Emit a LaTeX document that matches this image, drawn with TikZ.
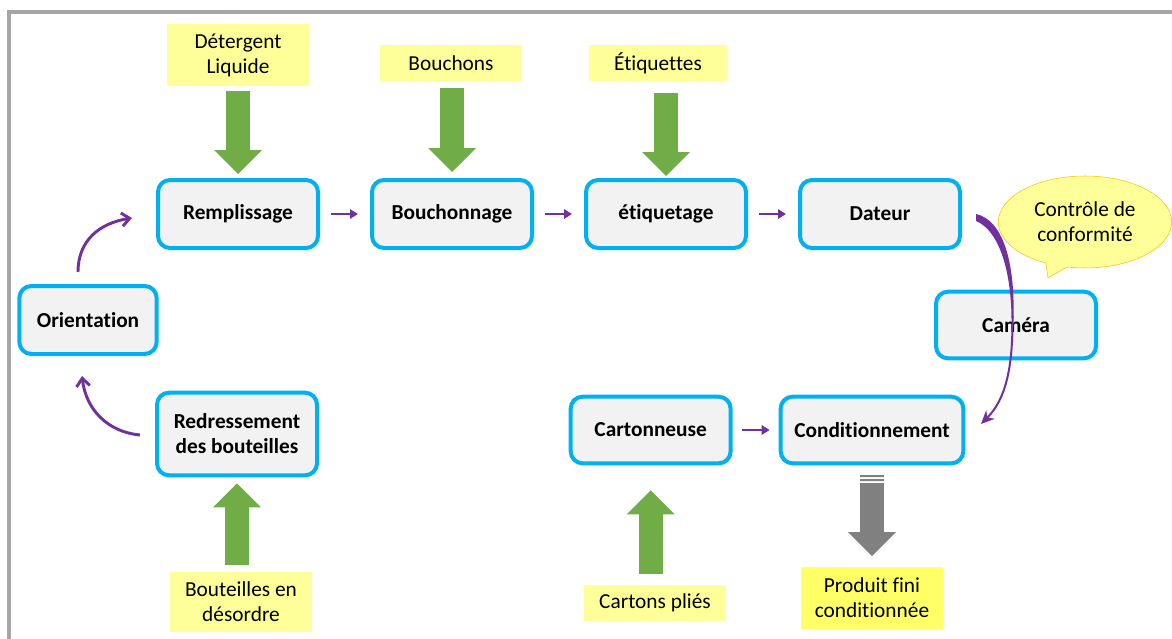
\documentclass[tikz,border=0pt]{standalone}
\usepackage{fontspec}
\setmainfont{Carlito}[Ligatures=CommonOff]
\usepackage{xcolor}
\usetikzlibrary{arrows.meta,positioning,shapes.callouts,shapes.geometric}
\definecolor{boxfill}{HTML}{F2F2F2}
\definecolor{boxline}{HTML}{00B0F0}
\definecolor{paleyellow}{HTML}{FFFF99}
\definecolor{brightyellow}{HTML}{FFFF66}
\definecolor{leafgreen}{HTML}{70AD47}
\definecolor{arrowgray}{HTML}{808080}
\definecolor{flowpurple}{HTML}{7030A0}
\definecolor{framegray}{HTML}{A6A6A6}
\definecolor{bubbleline}{HTML}{FFC000}

\begin{document}
\begin{tikzpicture}
[x=0.75pt, y=-0.75pt, font=\fontsize{16}{18.75}\selectfont,
% STYLES
% The machine style is used to draw each station of the line
machine/.style={rectangle, draw=boxline, fill=boxfill, line width=3pt, rounded corners=9pt, minimum width=120pt, minimum height=51pt, align=center, font=\fontsize{16}{18.75}\selectfont\bfseries},
% The supply style is used to draw what comes in and what goes out
supply/.style={rectangle, fill=paleyellow, minimum width=107pt, minimum height=27pt, align=center, inner sep=2pt},
% The feed style is used to draw the big block arrows
feed/.style={leafgreen, line width=18pt, -{Triangle[length=18pt,width=36pt,line width=0pt]}},
% The flow style is used to draw the small links between stations
flow/.style={flowpurple, line width=2pt, -{Triangle[length=6pt,width=7pt]}},
turn/.style={flowpurple, line width=2.2pt, -{Straight Barb[length=6pt,width=10pt]}}]

\useasboundingbox (0,0) rectangle (1172,639);
\draw [framegray, line width=3pt] (9,12) rectangle (1200,700);

% Draw stations
\node [machine] (remp) at (238,214) {Remplissage};
\node [machine, right=37.5pt of remp] (bouch) {Bouchonnage};
\node [machine, right=37.5pt of bouch] (etiq) {étiquetage};
\node [machine, right=37.5pt of etiq] (dateur) {Dateur};
\node [machine, minimum width=103pt] (orient) at (88,320) {Orientation};
\node [machine, minimum height=62pt] (redress) at (237,434) {Redressement\\des bouteilles};
\node [machine, minimum height=50pt] (camera) at (1016,325) {Caméra};
\node [machine, minimum width=137pt, minimum height=50pt] (cond) at (872,430) {Conditionnement};
\node [machine, minimum height=50pt, left=34.5pt of cond] (carton) {Cartonneuse};

%%%%%%%%%%%%%%%
% Inputs and output

\node [supply, minimum height=46.5pt] (deterg) at (238,55) {Détergent\\Liquide};
\node [supply] (bouchons) at (451,63) {Bouchons};
\node [supply, minimum width=103pt] (etiquettes) at (658,63) {Étiquettes};
\node [supply, minimum height=45pt] (bouteilles) at (241,602) {Bouteilles en\\désordre};
\node [supply] (cartons) at (655,603) {Cartons pliés};
\node [supply, fill=brightyellow, minimum height=46pt] (produit) at (872,598) {Produit fini\\conditionnée};

% control bubble
\node [ellipse callout, draw=bubbleline, fill=paleyellow, minimum width=130pt, minimum height=69pt, callout absolute pointer={(1048,278)}, align=center, inner sep=0pt] (bubble) at (1085,222) {Contrôle de\\conformité};

%%%%%%%%%%%%%%%%

% Draw the block arrows
\draw [feed, shorten <=3.75pt, shorten >=3pt] (deterg) -- (remp);
\draw [feed, shorten <=5.25pt, shorten >=4.5pt] (bouch.north |- bouchons.south) -- (bouch.north);
\draw [feed, shorten <=9pt, shorten >=1.5pt] (etiq.north |- etiquettes.south) -- (etiq.north);
\draw [feed, shorten <=5.25pt, shorten >=4.5pt] (redress.south |- bouteilles.north) -- (redress.south);
\draw [feed, shorten <=8.25pt, shorten >=18.75pt] (carton.south |- cartons.north) -- (carton.south);
\draw [feed, arrowgray, shorten <=13.5pt, shorten >=8.25pt] (cond) -- (produit);
\fill [arrowgray] (860,475) rectangle (884,477) (860,479) rectangle (884,481);

% Draw the links between stations
\path [flow, shorten <=8.25pt, shorten >=9pt]
(remp) edge (bouch)
(bouch) edge (etiq)
(etiq) edge (dateur);
\path [flow, shorten <=6.75pt, shorten >=6.75pt] (carton) edge (cond);

\coordinate (turn1-a) at (78,272);
\coordinate (turn1-b) at (132,218);
\coordinate (turn2-a) at (140,435);
\coordinate (turn2-b) at (82,376);
\draw [turn] (turn1-a) .. controls (78,240) and (100,223) .. (turn1-b);
\draw [turn] (turn2-a) .. controls (108,432) and (86,410) .. (turn2-b);

% camera loop
\fill [flowpurple] (976,214) .. controls (1003,220) and (1015,262) .. (1013.5,318) -- (1011.5,318) .. controls (1011,268) and (998,230) .. (976,221) -- cycle;
\coordinate (cam-mid) at (1012.5,316);
\coordinate (cam-end) at (981,424);
\draw [flowpurple, line width=1.5pt, -{Stealth[length=10pt,width=9pt]}] (cam-mid) .. controls (1013,370) and (1005,400) .. (cam-end);

\end{tikzpicture}
\end{document}
